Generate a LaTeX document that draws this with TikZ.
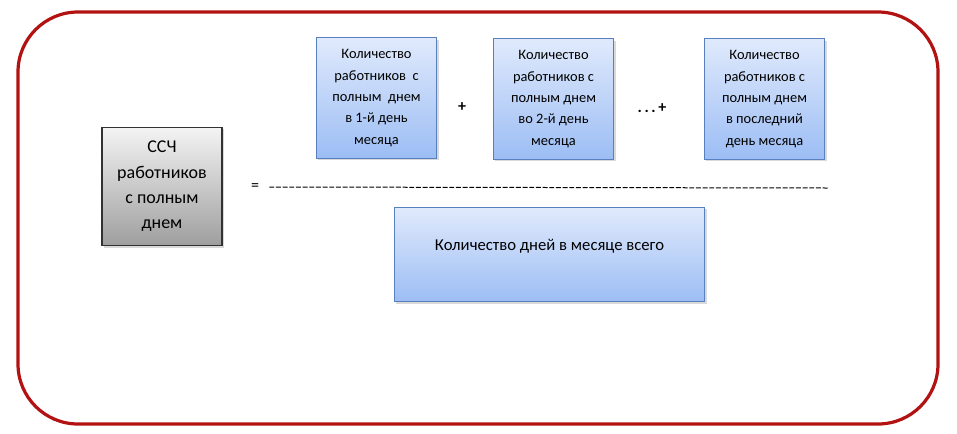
\documentclass[tikz,border=0pt]{standalone}
\usepackage{fontspec}
\setmainfont{Carlito}
\usepackage{tikz}
\usetikzlibrary{positioning,shadows}
\definecolor{frameRed}{RGB}{178,18,18}
\definecolor{blueTop}{RGB}{224,234,252}
\definecolor{blueBot}{RGB}{156,189,244}
\definecolor{blueLine}{RGB}{88,128,190}
\definecolor{grayTop}{RGB}{244,244,244}
\definecolor{grayBot}{RGB}{158,158,158}
\definecolor{grayLine}{RGB}{50,50,50}
\tikzstyle{daybox}   = [rectangle, draw=blueLine, line width=0.8pt, top color=blueTop, bottom color=blueBot, minimum width=90.5pt, minimum height=90.5pt, align=center, font=\fontsize{10.8}{16}\selectfont, drop shadow={opacity=0.3, shadow xshift=1.5pt, shadow yshift=-1.5pt}]
\tikzstyle{totalbox} = [daybox, minimum width=233pt, minimum height=71pt, font=\fontsize{12.5}{15}\selectfont]
\tikzstyle{resbox}   = [rectangle, draw=grayLine, line width=0.8pt, top color=grayTop, bottom color=grayBot, minimum width=90pt, minimum height=89pt, align=center, font=\fontsize{13.5}{19}\selectfont, drop shadow={opacity=0.3, shadow xshift=1.5pt, shadow yshift=-1.5pt}]
\tikzstyle{sign}     = [inner sep=0pt, font=\fontsize{12}{14}\selectfont]

\begin{document}
\begin{tikzpicture}[x=0.75pt,y=-0.75pt]
        \useasboundingbox (0,0) rectangle (957,433);
        \draw[frameRed, line width=2.4pt, rounded corners=45pt] (18,12) rectangle (938,424);

        \node[resbox] (ssch) at (162,186.5) {ССЧ\\работников\\с полным\\днем};

        \node[daybox] (day1) at (376.5,98) {Количество\\работников~ с\\полным~ днем\\в 1-й день\\месяца};
        \node[daybox] (day2) at (553.5,99) {Количество\\работников с\\полным днем\\во 2-й день\\месяца};
        \node[daybox] (dayN) at (764.5,99) {Количество\\работников с\\полным днем\\в последний\\день месяца};

        \node[sign] (plus) at (462,107) {\textbf{+}};
        \node[sign] (dots) at (652,108) {\textbf{.\,.\,.\,+}};

        \node[totalbox] (days) at (549.5,254.5) {Количество дней в месяце всего\\[-1pt]};

        \node[sign] (eq) at (255,187) {=};
        \coordinate (barend) at (828,188);
        \draw[line width=0.75pt, dash pattern=on 3.7pt off 1.3pt] ([xshift=7.5pt]eq.east) -- (barend);
    \end{tikzpicture}
\end{document}
